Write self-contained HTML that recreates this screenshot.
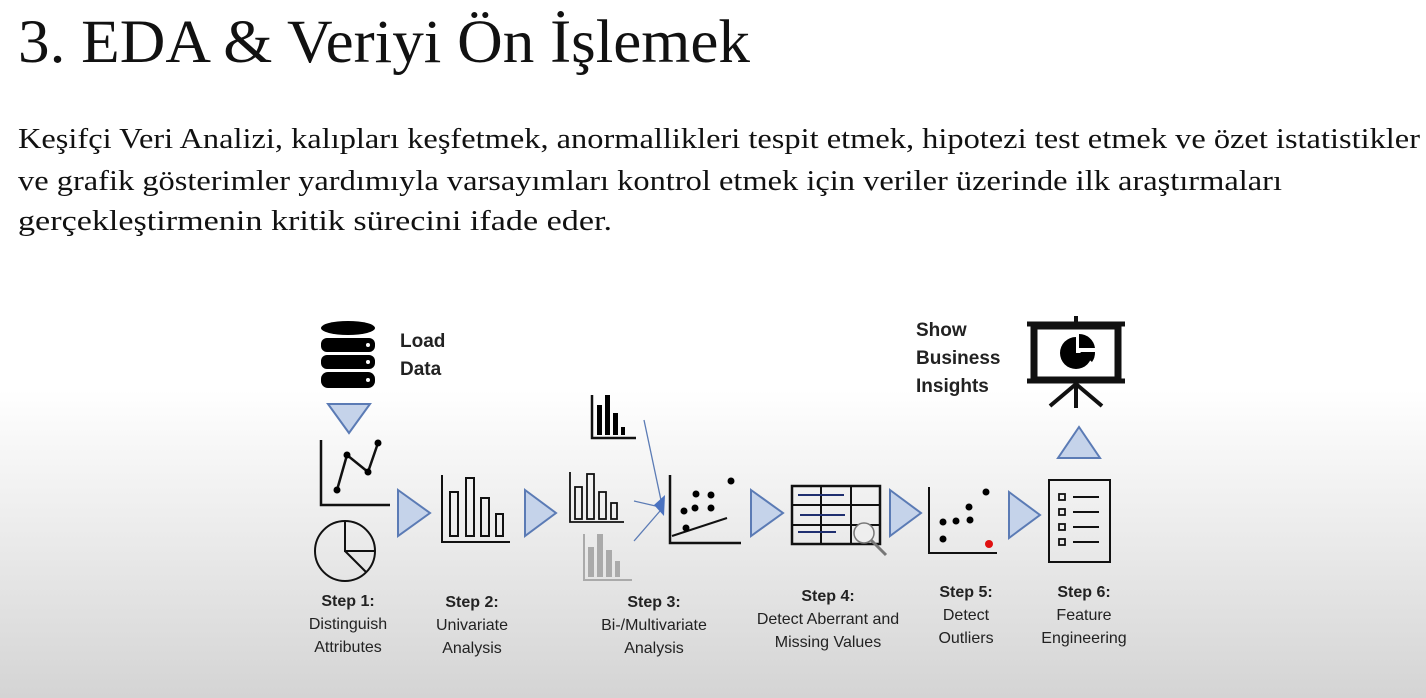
<!DOCTYPE html>
<html><head><meta charset="utf-8"><style>
html,body{margin:0;padding:0;width:1426px;height:698px;overflow:hidden}
body{background:linear-gradient(#fff 0px,#fff 390px,#e2e2e2 600px,#d4d4d4 698px)}
svg{position:absolute;left:0;top:0}
.s{font-family:"Liberation Serif",serif;fill:#111}
.b{font-family:"Liberation Sans",sans-serif;font-weight:bold;fill:#222;font-size:19px}
.l{font-family:"Liberation Sans",sans-serif;fill:#222;font-size:16px;text-anchor:middle}
.lb{font-weight:bold}
</style></head><body>
<svg width="1426" height="698" viewBox="0 0 1426 698">
<text class="s" x="18" y="62" font-size="61" textLength="732" lengthAdjust="spacingAndGlyphs">3.  EDA &amp; Veriyi Ön İşlemek</text>
<text class="s" x="18" y="148" font-size="29" textLength="1402" lengthAdjust="spacingAndGlyphs">Keşifçi Veri Analizi, kalıpları keşfetmek, anormallikleri tespit etmek, hipotezi test etmek ve özet istatistikler</text>
<text class="s" x="18" y="190" font-size="29" textLength="1264" lengthAdjust="spacingAndGlyphs">ve grafik gösterimler yardımıyla varsayımları kontrol etmek için veriler üzerinde ilk araştırmaları</text>
<text class="s" x="18" y="230" font-size="29" textLength="594" lengthAdjust="spacingAndGlyphs">gerçekleştirmenin kritik sürecini ifade eder.</text>

<g fill="#000">
<ellipse cx="348" cy="328" rx="27" ry="7"/>
<rect x="321" y="338" width="54" height="14" rx="6"/>
<rect x="321" y="355" width="54" height="14" rx="6"/>
<rect x="321" y="372" width="54" height="16" rx="7"/>
<circle cx="368" cy="345" r="2" fill="#fff"/><circle cx="368" cy="362" r="2" fill="#fff"/><circle cx="368" cy="380" r="2" fill="#fff"/>
</g>
<text class="b" x="400" y="347">Load</text><text class="b" x="400" y="375">Data</text>
<g fill="#c5d3ea" stroke="#5b7bb5" stroke-width="2">
<polygon points="328,404 370,404 349,433"/>
<polygon points="398,490 430,513 398,536"/>
<polygon points="525,490 556,513 525,536"/>
<polygon points="751,490 783,513 751,536"/>
<polygon points="890,490 921,513 890,536"/>
<polygon points="1009,492 1040,515 1009,538"/>
<polygon points="1058,458 1100,458 1079,427"/>
</g>
<g fill="none" stroke="#111" stroke-width="2.5">
<polyline points="321,440 321,505 390,505"/>
<polyline points="337,490 347,455 368,472 378,443"/>
<circle cx="345" cy="551" r="30" stroke-width="2"/>
<polyline points="345,521 345,551 375,551" stroke-width="2"/>
<line x1="345" y1="551" x2="366" y2="572" stroke-width="2"/>
<polyline points="442,475 442,542 510,542" stroke-width="2"/>
<g stroke-width="2"><rect x="450" y="492" width="8" height="44"/><rect x="466" y="478" width="8" height="58"/><rect x="481" y="498" width="8" height="38"/><rect x="496" y="514" width="7" height="22"/></g>
<g stroke-width="1.8"><polyline points="570,472 570,522 624,522"/><rect x="575" y="487" width="7" height="32"/><rect x="587" y="474" width="7" height="45"/><rect x="599" y="492" width="7" height="27"/><rect x="611" y="503" width="6" height="16"/></g>
<polyline points="592,395 592,438 636,438" stroke-width="2.5"/>
<polyline points="670,475 670,543 741,543" stroke-width="2.5"/>
<line x1="672" y1="536" x2="727" y2="518" stroke-width="2"/>
<rect x="792" y="486" width="88" height="58" stroke-width="2.5"/>
<line x1="792" y1="505" x2="880" y2="505" stroke-width="2"/><line x1="792" y1="525" x2="880" y2="525" stroke-width="2"/>
<line x1="821" y1="486" x2="821" y2="544" stroke-width="2"/><line x1="851" y1="486" x2="851" y2="544" stroke-width="2"/>
<circle cx="864" cy="533" r="10" stroke="#777" stroke-width="1.5" fill="#eee"/>
<line x1="871" y1="540" x2="886" y2="555" stroke="#777" stroke-width="3"/>
<polyline points="929,487 929,553 997,553" stroke-width="2"/>
<rect x="1049" y="480" width="61" height="82" stroke-width="2"/>
<g stroke-width="1.8"><rect x="1059" y="494" width="6" height="6"/><rect x="1059" y="509" width="6" height="6"/><rect x="1059" y="524" width="6" height="6"/><rect x="1059" y="539" width="6" height="6"/></g>
<g stroke-width="2"><line x1="1073" y1="497" x2="1099" y2="497"/><line x1="1073" y1="512" x2="1099" y2="512"/><line x1="1073" y1="527" x2="1099" y2="527"/><line x1="1073" y1="542" x2="1099" y2="542"/></g>
<rect x="1034" y="326" width="84" height="54" stroke-width="7"/>
<line x1="1027" y1="324" x2="1125" y2="324" stroke-width="5"/><line x1="1027" y1="381" x2="1125" y2="381" stroke-width="5"/>
<line x1="1076" y1="316" x2="1076" y2="324" stroke-width="4"/>
<line x1="1076" y1="381" x2="1076" y2="408" stroke-width="4"/><line x1="1076" y1="384" x2="1050" y2="406" stroke-width="4"/><line x1="1076" y1="384" x2="1102" y2="406" stroke-width="4"/>
</g>
<g stroke="#1f2f70" stroke-width="2"><line x1="798" y1="495" x2="844" y2="495"/><line x1="800" y1="515" x2="845" y2="515"/><line x1="798" y1="532" x2="836" y2="532"/></g>
<g fill="#000">
<circle cx="337" cy="490" r="3.5"/><circle cx="347" cy="455" r="3.5"/><circle cx="368" cy="472" r="3.5"/><circle cx="378" cy="443" r="3.5"/>
<rect x="597" y="405" width="5" height="30"/><rect x="605" y="395" width="5" height="40"/><rect x="613" y="413" width="5" height="22"/><rect x="621" y="427" width="4" height="8"/>
<circle cx="686" cy="528" r="3.5"/><circle cx="684" cy="511" r="3.5"/><circle cx="695" cy="508" r="3.5"/><circle cx="711" cy="508" r="3.5"/><circle cx="696" cy="494" r="3.5"/><circle cx="711" cy="495" r="3.5"/><circle cx="731" cy="481" r="3.5"/>
<circle cx="943" cy="539" r="3.5"/><circle cx="943" cy="522" r="3.5"/><circle cx="956" cy="521" r="3.5"/><circle cx="970" cy="520" r="3.5"/><circle cx="969" cy="507" r="3.5"/><circle cx="986" cy="492" r="3.5"/>
<path d="M1076,337 A16,16 0 1 0 1092,353 L1076,353 Z"/><path d="M1079,334 A16,16 0 0 1 1095,348 L1079,348 Z"/><path d="M1080,352 L1095,352 A16,16 0 0 1 1092,362 Z"/>
</g>
<circle cx="989" cy="544" r="4" fill="#e01010"/>
<g fill="#aaa"><rect x="588" y="547" width="6" height="30"/><rect x="597" y="534" width="6" height="43"/><rect x="606" y="550" width="6" height="27"/><rect x="615" y="561" width="5" height="16"/></g>
<polyline points="584,534 584,580 632,580" fill="none" stroke="#aaa" stroke-width="2"/>
<g stroke="#5b7bb5" stroke-width="1.3"><line x1="644" y1="420" x2="662" y2="505"/><line x1="634" y1="501" x2="660" y2="507"/><line x1="634" y1="541" x2="660" y2="511"/></g>
<polygon points="654,505 665,495 664,516" fill="#4a72c0"/>
<text class="b" x="916" y="336">Show</text><text class="b" x="916" y="364">Business</text><text class="b" x="916" y="392">Insights</text>
<text class="l lb" x="348" y="606">Step 1:</text><text class="l" x="348" y="629">Distinguish</text><text class="l" x="348" y="652">Attributes</text>
<text class="l lb" x="472" y="607">Step 2:</text><text class="l" x="472" y="630">Univariate</text><text class="l" x="472" y="653">Analysis</text>
<text class="l lb" x="654" y="607">Step 3:</text><text class="l" x="654" y="630">Bi-/Multivariate</text><text class="l" x="654" y="653">Analysis</text>
<text class="l lb" x="828" y="601">Step 4:</text><text class="l" x="828" y="624">Detect Aberrant and</text><text class="l" x="828" y="647">Missing Values</text>
<text class="l lb" x="966" y="597">Step 5:</text><text class="l" x="966" y="620">Detect</text><text class="l" x="966" y="643">Outliers</text>
<text class="l lb" x="1084" y="597">Step 6:</text><text class="l" x="1084" y="620">Feature</text><text class="l" x="1084" y="643">Engineering</text>
</svg>
</body></html>
